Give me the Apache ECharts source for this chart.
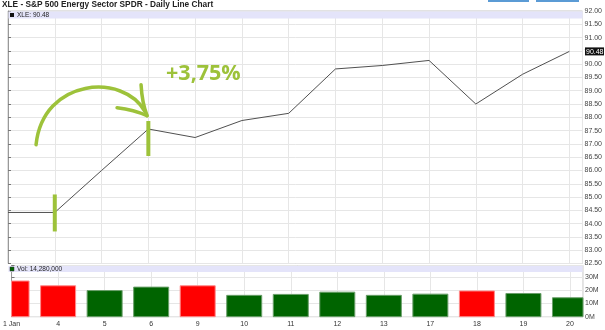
<!DOCTYPE html>
<html><head><meta charset="utf-8">
<script src="https://cdn.jsdelivr.net/npm/echarts@6/dist/echarts.min.js"></script>
<style>html,body{margin:0;padding:0;background:#fff}#c{width:605px;height:330px}</style>
</head><body><div id="c"></div>
<script>
const titleText = 'XLE - S&P 500 Energy Sector SPDR - Daily Line Chart';
const categories = ['1 Jan','4','5','6','9','10','11','12','13','17','18','19','20'];
const closes = [84.42, 84.42, 86.00, 87.56, 87.24, 87.88, 88.15, 89.82, 89.95, 90.14, 88.50, 89.62, 90.48];
const volumesM = [26.9, 23.3, 19.7, 22.3, 23.3, 16.1, 16.8, 18.5, 16.1, 17.0, 19.4, 17.5, 14.28];
const volDir = ['down','down','up','up','down','up','up','up','up','up','down','up','up'];
const lastClose = 90.48;
const lastVolText = '14,280,000';
const changeText = '+3,75%';

const GREEN = '#9dc23a';
const chart = echarts.init(document.getElementById('c'), null, {renderer:'canvas'});
const xCommon = {type:'value', min:0, max:12.28, interval:1,
  axisLine:{show:false}, axisTick:{show:false},
  splitLine:{show:true, lineStyle:{color:'#e6e6e6', width:1}}};
const BAR_W = 35;
const option = {
  animation:false,
  backgroundColor:'#fff',
  title:{text:titleText, left:2, top:1, padding:0,
    textStyle:{fontSize:8.3, fontWeight:'bold', color:'#222', fontFamily:'Liberation Sans'}},
  grid:[
    {left:8, right:22, top:11, height:252.5, show:true, borderColor:'#c4c4c4', borderWidth:1},
    {left:8, right:22, top:265.5, bottom:13.3, show:true, borderColor:'#c4c4c4', borderWidth:1}
  ],
  xAxis:[
    Object.assign({gridIndex:0, axisLabel:{show:false}}, xCommon),
    Object.assign({gridIndex:1, axisLabel:{show:true, fontSize:7, color:'#333', margin:4,
      fontFamily:'Liberation Sans',
      formatter:v => Number.isInteger(v) && categories[v] !== undefined ? categories[v] : ''}}, xCommon)
  ],
  yAxis:[
    {gridIndex:0, type:'value', position:'right', min:82.5, max:92, interval:0.5,
      axisLine:{show:true, lineStyle:{color:'#999'}},
      axisTick:{show:true, length:3, lineStyle:{color:'#777'}},
      axisLabel:{fontSize:7, color:'#444', margin:2, fontFamily:'Liberation Sans', formatter:v=>v.toFixed(2)},
      splitLine:{show:true, lineStyle:{color:'#e6e6e6'}}},
    {gridIndex:1, type:'value', position:'right', min:0, max:38.6, interval:10,
      axisLine:{show:true, lineStyle:{color:'#999'}},
      axisTick:{show:true, length:3, lineStyle:{color:'#777'}},
      axisLabel:{fontSize:7, color:'#444', margin:2, fontFamily:'Liberation Sans',
        formatter:v => (Math.abs(v % 10) < 1e-9) ? v + 'M' : ''},
      splitLine:{show:true, lineStyle:{color:'#e6e6e6'}}}
  ],
  series:[
    {type:'line', xAxisIndex:0, yAxisIndex:0, symbol:'none',
      lineStyle:{color:'#505050', width:1},
      data:closes.map((v,i)=>[i,v]), z:5},
    {type:'custom', xAxisIndex:1, yAxisIndex:1,
      data:volumesM.map((v,i)=>[i,v]),
      renderItem:function(params, api){
        const i = api.value(0);
        const top = api.coord([i, api.value(1)]);
        const base = api.coord([i, 0]);
        const down = volDir[i] === 'down';
        const rect = echarts.graphic.clipRectByRect(
          {x: top[0]-BAR_W/2, y: top[1], width: BAR_W, height: base[1]-top[1]},
          {x: params.coordSys.x, y: params.coordSys.y, width: params.coordSys.width, height: params.coordSys.height});
        if (!rect) return null;
        return {type:'rect', shape:rect, style:{
          fill: down ? '#ff0000' : '#006400',
          stroke: down ? '#ff8a8a' : '#6a9f6a', lineWidth:1}};
      }}
  ]
};
chart.setOption(option);

const p1 = chart.convertToPixel({xAxisIndex:0, yAxisIndex:0}, [1, closes[1]]);
const p3 = chart.convertToPixel({xAxisIndex:0, yAxisIndex:0}, [3, closes[3]]);
const pl = chart.convertToPixel({xAxisIndex:0, yAxisIndex:0}, [12, lastClose]);
const gx0 = 8, gx1 = 605-22;
const dx = p3[0]-149.3, dy = p3[1]-129.3;
const arrowStyle = {fill:null, stroke:GREEN, lineWidth:3.5, lineCap:'round'};

chart.setOption({graphic:[
  {type:'rect', shape:{x:488, y:0, width:41, height:2}, style:{fill:'#5b9bd5'}},
  {type:'rect', shape:{x:536, y:0, width:43, height:2}, style:{fill:'#5b9bd5'}},
  {type:'rect', shape:{x:gx0+0.5, y:11.5, width:gx1-gx0-1, height:7}, style:{fill:'#e4e4fa'}, z:1},
  {type:'rect', shape:{x:10, y:13, width:4, height:4}, style:{fill:'#111'}, z:2},
  {type:'text', x:17, y:15.2, style:{text:'XLE: '+lastClose.toFixed(2), fill:'#222', font:'6.5px "Liberation Sans"', textVerticalAlign:'middle'}, z:2},
  {type:'rect', shape:{x:gx0+0.5, y:266, width:gx1-gx0-1, height:6}, style:{fill:'#e4e4fa'}, z:1},
  {type:'rect', shape:{x:10, y:267, width:4, height:4}, style:{fill:'#006400', stroke:'#333', lineWidth:0.5}, z:2},
  {type:'text', x:17, y:269.2, style:{text:'Vol: '+lastVolText, fill:'#222', font:'6.5px "Liberation Sans"', textVerticalAlign:'middle'}, z:2},
  {type:'rect', shape:{x:gx1+2, y:pl[1]-4, width:19, height:8}, style:{fill:'#111'}, z:10},
  {type:'text', x:gx1+3, y:pl[1]+0.3, style:{text:lastClose.toFixed(2), fill:'#fff', font:'7px "Liberation Sans"', textVerticalAlign:'middle'}, z:11},
  {type:'rect', shape:{x:p1[0]-2, y:p1[1]-18, width:4, height:37}, style:{fill:GREEN}, z:20},
  {type:'rect', shape:{x:p3[0]-2, y:p3[1]-8, width:4, height:35}, style:{fill:GREEN}, z:20},
  {type:'bezierCurve', shape:{x1:37+dx, y1:145+dy, cpx1:44+dx, cpy1:78+dy, cpx2:125+dx, cpy2:73+dy, x2:146+dx, y2:112+dy}, style:arrowStyle, z:20},
  {type:'bezierCurve', shape:{x1:118+dx, y1:108+dy, cpx1:135+dx, cpy1:110+dy, x2:148+dx, y2:116+dy}, style:arrowStyle, z:20},
  {type:'bezierCurve', shape:{x1:142+dx, y1:85+dy, cpx1:143+dx, cpy1:103+dy, x2:148+dx, y2:116+dy}, style:arrowStyle, z:20},
  {type:'text', x:167+dx, y:74+dy, style:{text:changeText, fill:GREEN, font:'bold 21.5px "Open Sans"', textVerticalAlign:'middle'}, z:20}
]});
</script></body></html>
